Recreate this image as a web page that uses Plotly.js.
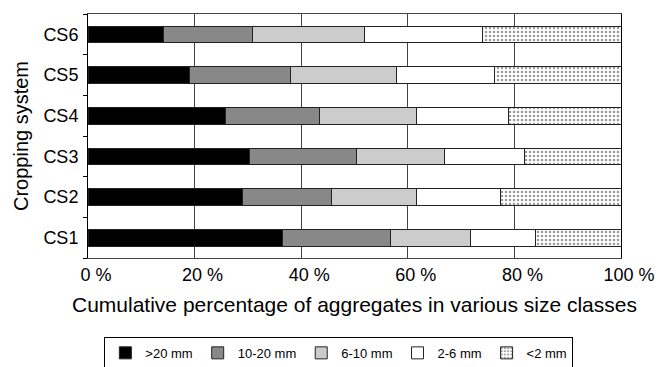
<!DOCTYPE html>
<html>
<head>
<meta charset="utf-8">
<script src="https://cdn.plot.ly/plotly-3.0.1.min.js"></script>
<style>html,body{margin:0;padding:0;background:#fff;}#chart{width:658px;height:367px;}</style>
</head>
<body>
<div id="chart"></div>
<script>
const categories = ['CS1', 'CS2', 'CS3', 'CS4', 'CS5', 'CS6'];
const seriesNames = ['>20 mm', '10-20 mm', '6-10 mm', '2-6 mm', '<2 mm'];
const gt20 = [36.4, 29.0, 30.3, 25.8, 19.0, 14.1];
const s10to20 = [20.4, 16.7, 20.0, 17.6, 18.9, 16.7];
const s6to10 = [15.0, 16.0, 16.6, 18.3, 19.9, 21.0];
const s2to6 = [12.2, 15.6, 15.0, 17.2, 18.5, 22.3];
const lt2 = [16.0, 22.7, 18.1, 21.1, 23.7, 25.9];
const xTicks = [0, 20, 40, 60, 80, 100];

const seriesValues = [gt20, s10to20, s6to10, s2to6, lt2];
const fills = ['#000000', '#888888', '#cccccc', '#ffffff', '#ffffff'];

const traces = seriesValues.map((vals, i) => {
  const marker = { color: fills[i], line: { color: '#222', width: 1 } };
  if (i === 4) {
    marker.pattern = { shape: '.', fgcolor: '#999', bgcolor: '#ffffff', size: 4, solidity: 0.3 };
  }
  return {
    type: 'bar', orientation: 'h', name: seriesNames[i],
    x: vals, y: categories, marker: marker, hoverinfo: 'skip'
  };
});

const font = { family: 'Liberation Sans, Arial, sans-serif', color: '#000' };
const layout = {
  width: 658, height: 367,
  margin: { l: 88, r: 37, t: 14, b: 109 },
  barmode: 'stack', bargap: 0.59,
  paper_bgcolor: '#fff', plot_bgcolor: '#fff',
  font: Object.assign({ size: 18 }, font),
  showlegend: true,
  legend: {
    orientation: 'h', traceorder: 'normal',
    xref: 'container', yref: 'container',
    x: 0.515, xanchor: 'center', y: 0.082, yanchor: 'top',
    bordercolor: '#000', borderwidth: 1, font: Object.assign({ size: 13 }, font),
    itemwidth: 30, tracegroupgap: 0
  },
  xaxis: {
    range: [0, 100], tickvals: xTicks, ticktext: xTicks.map(v => v + ' %'),
    showgrid: true, gridcolor: '#444', gridwidth: 1,
    showline: true, linecolor: '#444', linewidth: 1, mirror: true,
    ticks: '', zeroline: false, ticklabelshift: 8,
    tickfont: Object.assign({ size: 18 }, font),
    title: { text: 'Cumulative percentage of aggregates in various size classes', font: Object.assign({ size: 21 }, font), standoff: 13 }
  },
  yaxis: {
    type: 'category', categoryorder: 'array', categoryarray: categories,
    showgrid: false, showline: true, linecolor: '#000', linewidth: 1, mirror: true,
    ticks: 'outside', ticklen: 4, tickcolor: '#000', tickson: 'boundaries',
    ticklabelstandoff: 5,
    tickfont: Object.assign({ size: 18 }, font),
    title: { text: 'Cropping system', font: Object.assign({ size: 20 }, font), standoff: 9 }
  }
};

Plotly.newPlot('chart', traces, layout, { staticPlot: true, displayModeBar: false });
</script>
</body>
</html>
